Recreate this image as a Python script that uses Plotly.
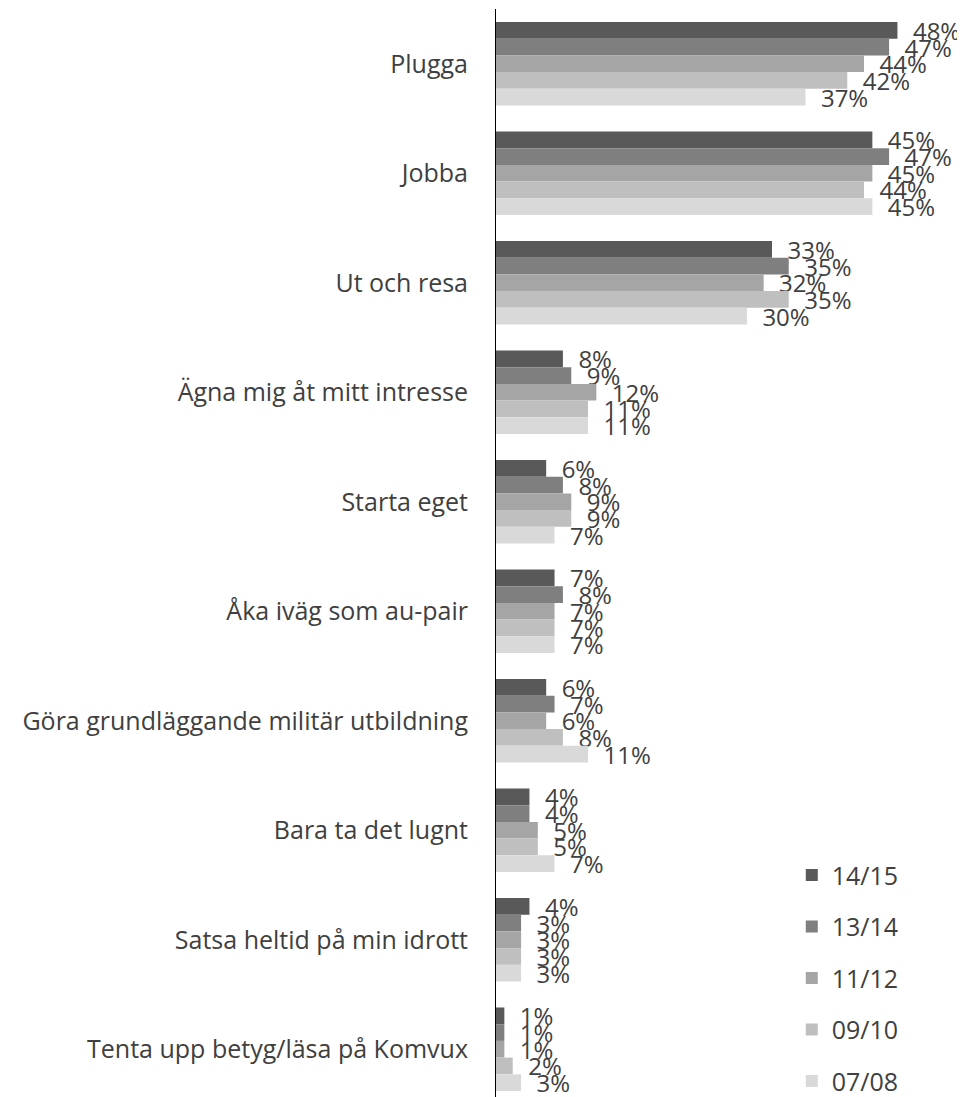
import plotly.graph_objects as go

categories = ["Plugga", "Jobba", "Ut och resa", "Ägna mig åt mitt intresse", "Starta eget",
              "Åka iväg som au-pair", "Göra grundläggande militär utbildning",
              "Bara ta det lugnt", "Satsa heltid på min idrott", "Tenta upp betyg/läsa på Komvux"]
series_names = ["14/15", "13/14", "11/12", "09/10", "07/08"]
v_1415 = [48, 45, 33, 8, 6, 7, 6, 4, 4, 1]
v_1314 = [47, 47, 35, 9, 8, 8, 7, 4, 3, 1]
v_1112 = [44, 45, 32, 12, 9, 7, 6, 5, 3, 1]
v_0910 = [42, 44, 35, 11, 9, 7, 8, 5, 3, 2]
v_0708 = [37, 45, 30, 11, 7, 7, 11, 7, 3, 3]
colors = ["#595959", "#7f7f7f", "#a5a5a5", "#bfbfbf", "#d9d9d9"]

FONT = "Open Sans"
TXT = "#404040"

fig = go.Figure()
for name, vals, col in zip(series_names, [v_1415, v_1314, v_1112, v_0910, v_0708], colors):
    fig.add_trace(go.Bar(
        y=categories, x=vals, name=name, orientation="h",
        marker=dict(color=col, line=dict(width=0)),
        text=[f"\u00a0\u00a0{v}%" for v in vals], textposition="outside",
        textfont=dict(family=FONT, size=24, color=TXT),
        constraintext="none", cliponaxis=False,
        legendgroup=name,
    ))

# page body has an 8px default margin, compensate; figure extends a bit below the viewport
W, H = 957, 1109
ML, MR, MT, MB = 488, 9, 1, 20
fig.update_layout(
    width=W, height=H,
    margin=dict(l=ML, r=MR, t=MT, b=MB, pad=0, autoexpand=False),
    plot_bgcolor="white", paper_bgcolor="white",
    barmode="group", bargap=0.237, bargroupgap=0,
    font=dict(family=FONT, size=25, color=TXT),
    showlegend=True,
    legend=dict(x=0.643, xanchor="left", y=0.225, yanchor="top",
                font=dict(family=FONT, size=25, color=TXT),
                tracegroupgap=16, bgcolor="rgba(0,0,0,0)", traceorder="grouped"),
)
fig.update_xaxes(range=[0, 55], showgrid=False, showticklabels=False, zeroline=False,
                 showline=False, ticks="")
fig.update_yaxes(type="category", range=[9.436, -0.5], showgrid=False, showline=True,
                 linecolor="black", linewidth=1, ticks="", ticklabelstandoff=22,
                 automargin=False,
                 tickfont=dict(family=FONT, size=25, color=TXT))

fig.write_html("out.html")
